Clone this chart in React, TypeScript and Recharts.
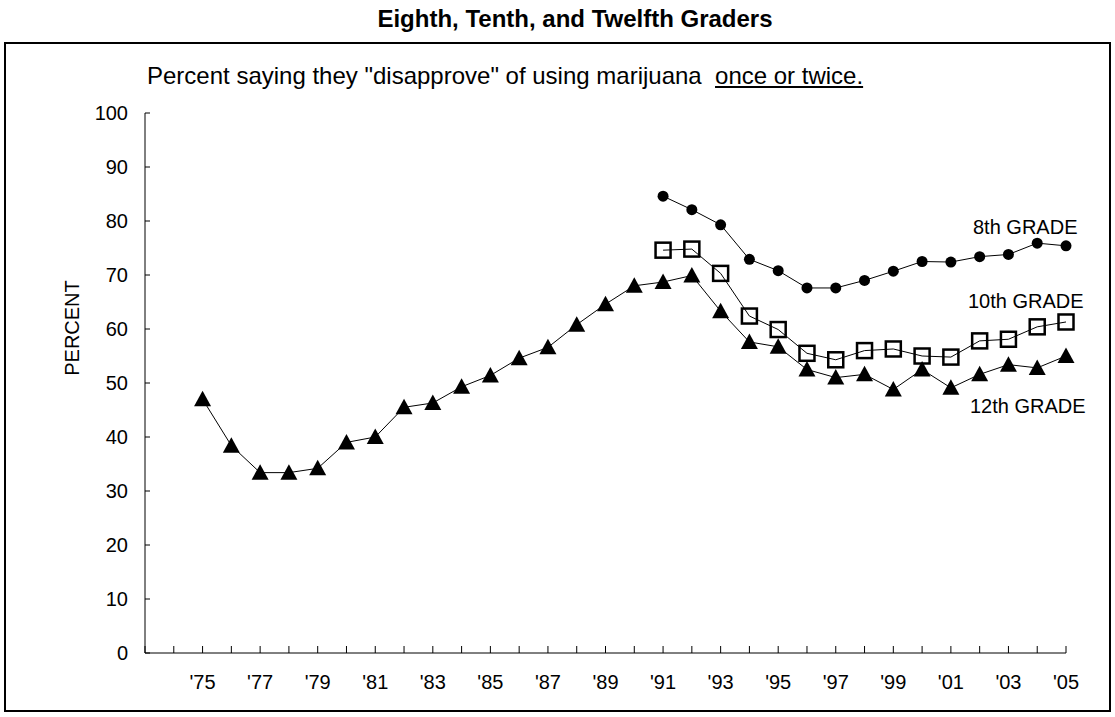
import { LineChart, Line, XAxis, YAxis } from 'recharts'

const years = [1975, 1976, 1977, 1978, 1979, 1980, 1981, 1982, 1983, 1984, 1985, 1986, 1987, 1988, 1989, 1990, 1991, 1992, 1993, 1994, 1995, 1996, 1997, 1998, 1999, 2000, 2001, 2002, 2003, 2004, 2005]

const grade12 = [47.0, 38.4, 33.4, 33.4, 34.2, 39.0, 40.0, 45.5, 46.3, 49.3, 51.4, 54.6, 56.6, 60.8, 64.6, 68.0, 68.7, 69.9, 63.3, 57.6, 56.7, 52.5, 51.0, 51.6, 48.8, 52.5, 49.1, 51.6, 53.4, 52.8, 55.0]

// 8th and 10th grade start in 1991
const grade10 = [74.6, 74.8, 70.3, 62.4, 59.9, 55.5, 54.3, 56.0, 56.3, 55.0, 54.8, 57.8, 58.1, 60.4, 61.3]
const grade8 = [84.6, 82.1, 79.3, 72.9, 70.8, 67.6, 67.6, 69.0, 70.7, 72.5, 72.4, 73.4, 73.8, 75.9, 75.4]

const yTicks = [0, 10, 20, 30, 40, 50, 60, 70, 80, 90, 100]
const xTicks = Array.from({ length: 33 }, (_, i) => 1973 + i)

const data = years.map((y, i) => ({
  year: y,
  g12: grade12[i],
  g10: y >= 1991 ? grade10[y - 1991] : null,
  g8: y >= 1991 ? grade8[y - 1991] : null,
}))

const FONT = 'Arial, "Liberation Sans", sans-serif'

function yearLabel(v: number) {
  if (v < 1975 || v % 2 === 0) return ''
  return "'" + String(v).slice(2)
}

const Square = (props: any) => {
  const { cx, cy, index } = props
  if (cx == null || cy == null) return <g key={index} />
  return <rect key={index} x={cx - 7.5} y={cy - 7.5} width={15} height={15} fill="none" stroke="#000" strokeWidth={2.5} />
}

const Triangle = (props: any) => {
  const { cx, cy, index } = props
  if (cx == null || cy == null) return <g key={index} />
  return <path key={index} d={`M${cx},${cy - 8.5} L${cx + 8.5},${cy + 7} L${cx - 8.5},${cy + 7} Z`} fill="#000" />
}

const Dot = (props: any) => {
  const { cx, cy, index } = props
  if (cx == null || cy == null) return <g key={index} />
  return <circle key={index} cx={cx} cy={cy} r={5.5} fill="#000" />
}

const abs = (s: any): any => ({ position: 'absolute', fontFamily: FONT, color: '#000', whiteSpace: 'nowrap', ...s })

export default function App() {
  return (
    <div style={{ position: 'absolute', left: 0, top: 0, width: 1115, height: 717, background: '#fff' }}>
      <div style={abs({ left: 4, top: 42, width: 1107, height: 670, border: '2px solid #000', boxSizing: 'border-box' })} />
      <div style={abs({ left: 575, top: 5, transform: 'translateX(-50%)', fontSize: 24, fontWeight: 'bold' })}>
        Eighth, Tenth, and Twelfth Graders
      </div>
      <div style={abs({ left: 147, top: 62, fontSize: 24 })}>
        Percent saying they "disapprove" of using marijuana&nbsp; <span style={{ textDecoration: 'underline' }}>once or twice.</span>
      </div>
      <div style={abs({ left: 72, top: 328, transform: 'translate(-50%, -50%) rotate(-90deg)', fontSize: 20 })}>PERCENT</div>
      <div style={abs({ left: 973, top: 216, fontSize: 20 })}>8th GRADE</div>
      <div style={abs({ left: 968, top: 290, fontSize: 20 })}>10th GRADE</div>
      <div style={abs({ left: 970, top: 395, fontSize: 20 })}>12th GRADE</div>
      <div style={{ position: 'absolute', left: 0, top: 0 }}>
        <LineChart width={1115} height={717} data={data} margin={{ top: 113, right: 49, bottom: 24, left: 85 }}>
          <XAxis
            dataKey="year"
            type="number"
            domain={[1973, 2005]}
            ticks={xTicks}
            interval={0}
            tickFormatter={yearLabel}
            height={40}
            tickSize={-7}
            tickMargin={29}
            stroke="#000"
            tick={{ fill: '#000', fontSize: 20, fontFamily: FONT }}
          />
          <YAxis
            type="number"
            domain={[0, 100]}
            ticks={yTicks}
            interval={0}
            width={60}
            tickSize={-5}
            tickMargin={22}
            stroke="#000"
            tick={{ fill: '#000', fontSize: 20, fontFamily: FONT }}
          />
          <Line dataKey="g12" stroke="#000" strokeWidth={1} dot={Triangle} activeDot={false} isAnimationActive={false} />
          <Line dataKey="g10" stroke="#000" strokeWidth={1} dot={Square} activeDot={false} isAnimationActive={false} />
          <Line dataKey="g8" stroke="#000" strokeWidth={1} dot={Dot} activeDot={false} isAnimationActive={false} />
        </LineChart>
      </div>
    </div>
  )
}
